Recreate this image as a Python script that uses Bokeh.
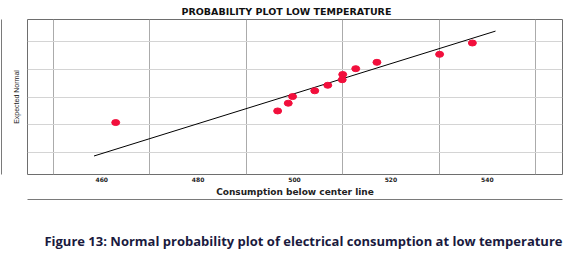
from bokeh.plotting import figure
from bokeh.models import Range1d, FixedTicker, CustomJSTickFormatter, Title, LinearAxis
from bokeh.embed import file_html
from bokeh.resources import INLINE

# ---- data ----
consumption = [462.9, 496.5, 498.7, 499.6, 504.2, 506.9, 509.9, 510.0, 512.7, 517.1, 530.1, 536.9]
expected_normal = [-0.92, -0.50, -0.22, 0.02, 0.23, 0.43, 0.63, 0.82, 1.03, 1.26, 1.55, 1.96]
line_x = [458.4, 541.7]
line_y = [-2.13, 2.39]
x_tick_labels = [460, 480, 500, 520, 540]
x_grid_values = [450, 470, 490, 510, 530, 550]
y_grid_values = [-2, -1, 0, 1, 2]

W, H = 571, 254
FL, FR, FT, FB = 27, 562, 19, 175          # plot frame edges in pixels

p = figure(width=W, height=H, output_backend="svg", toolbar_location=None,
           x_range=Range1d(444.6, 555.6), y_range=Range1d(-2.80, 2.81),
           min_border_left=FL, min_border_right=W - FR, min_border_top=FT,
           min_border_bottom=H - FB)
p.outline_line_color = "#6e6e6e"
p.background_fill_color = "white"
p.border_fill_color = "white"

# chart title (above)
p.title.text = "PROBABILITY PLOT LOW TEMPERATURE"
p.title.align = "left"
p.title.offset = 154
p.title.text_font = "DejaVu Sans"
p.title.text_font_style = "bold"
p.title.text_font_size = "9.5px"
p.title.text_color = "#111111"
p.title.standoff = 5

# grids
p.xgrid.ticker = FixedTicker(ticks=x_grid_values)
p.xgrid.grid_line_color = "#ababab"
p.ygrid.ticker = FixedTicker(ticks=y_grid_values)
p.ygrid.grid_line_color = "#d4d4d4"

# x axis
p.xaxis.ticker = FixedTicker(ticks=x_tick_labels)
p.xaxis.axis_line_color = None
p.xaxis.major_tick_line_color = None
p.xaxis.minor_tick_line_color = None
p.xaxis.major_tick_out = 0
p.xaxis.major_label_standoff = 2
p.xaxis.major_label_text_font = "DejaVu Sans"
p.xaxis.major_label_text_font_style = "bold"
p.xaxis.major_label_text_font_size = "6px"
p.xaxis.major_label_text_color = "#222222"
p.xaxis.axis_label = "Consumption below center line"
p.xaxis.axis_label_text_font = "DejaVu Sans"
p.xaxis.axis_label_text_font_style = "bold"
p.xaxis.axis_label_text_font_size = "9px"
p.xaxis.axis_label_text_color = "#222222"
p.xaxis.axis_label_standoff = 2

# y axis (label with a blank outer line so the box line sits further out)
p.yaxis.ticker = FixedTicker(ticks=y_grid_values)
p.yaxis.formatter = CustomJSTickFormatter(code="return ''")
p.yaxis.axis_line_color = None
p.yaxis.major_tick_line_color = None
p.yaxis.minor_tick_line_color = None
p.yaxis.major_tick_out = 0
p.yaxis.major_label_standoff = 0
p.yaxis.major_label_text_font_size = "0px"
p.yaxis.axis_label = " \nExpected Normal"
p.yaxis.axis_label_text_font = "Liberation Sans"
p.yaxis.axis_label_text_font_style = "normal"
p.yaxis.axis_label_text_font_size = "7px"
p.yaxis.axis_label_text_line_height = 1.1
p.yaxis.axis_label_text_color = "#222222"
p.yaxis.axis_label_standoff = 8

# outer box lines drawn as bare axis rules
def box_axis(spacer_standoff=None):
    ax = LinearAxis(ticker=FixedTicker(ticks=[]), formatter=CustomJSTickFormatter(code="return ''"))
    ax.axis_line_color = "#7a7a7a"
    ax.major_tick_line_color = None
    ax.minor_tick_line_color = None
    ax.major_tick_out = 0
    ax.major_tick_in = 0
    ax.minor_tick_out = 0
    ax.major_label_standoff = 0
    ax.major_label_text_font_size = "0px"
    if spacer_standoff is not None:
        ax.axis_label = " "
        ax.axis_label_text_font = "DejaVu Sans"
        ax.axis_label_text_font_size = "9px"
        ax.axis_label_standoff = spacer_standoff
    return ax

p.add_layout(box_axis(), "left")
p.add_layout(box_axis(13), "below")

# fitted line and points
p.line(line_x, line_y, line_color="black", line_width=1)
p.ellipse(consumption, expected_normal, width=8, height=6,
          width_units="screen", height_units="screen",
          fill_color="#f20f3c", line_color="#f20f3c")

# figure caption (below)
caption = Title(text="Figure 13: Normal probability plot of electrical consumption at low temperature",
                align="right", text_font="Open Sans", text_font_style="bold",
                text_font_size="13px", text_color="#1a1a3e", standoff=9)
p.add_layout(caption, "below")

open("out.html", "w").write(file_html(p, INLINE))
